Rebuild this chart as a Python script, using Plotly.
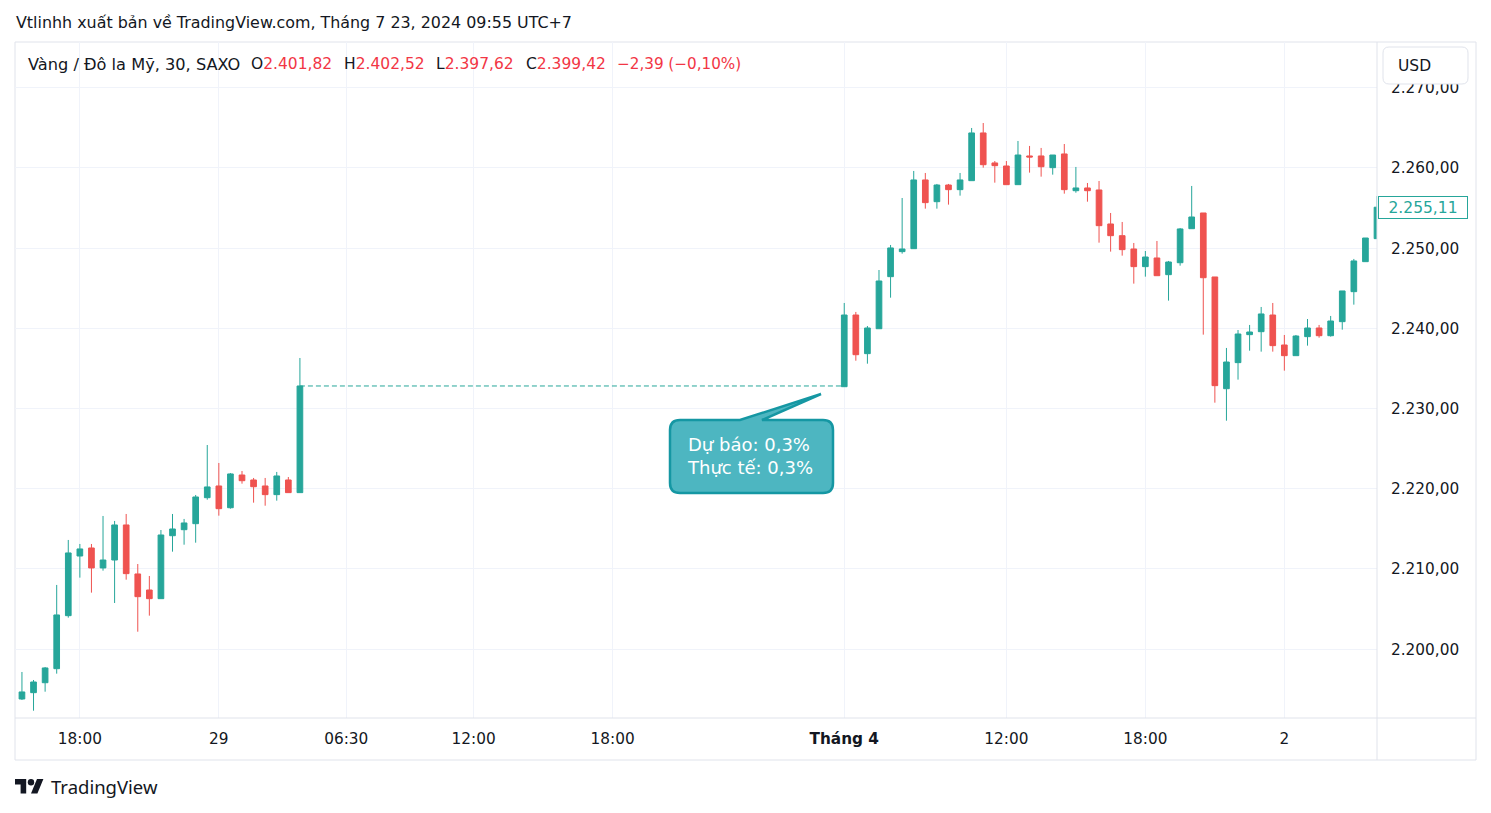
import plotly.graph_objects as go

# ---------------- data ----------------
# Session 1: 28-29 March (30-minute bars)
open_1 = [2193.79, 2194.58, 2195.82, 2197.57, 2204.18, 2211.62, 2212.62, 2210.13, 2211.12, 2215.49,
          2209.38, 2207.38, 2206.30, 2214.15, 2214.90, 2215.65, 2218.89, 2220.35, 2217.64, 2221.72,
          2221.10, 2220.35, 2219.27, 2221.10, 2219.52]
high_1 = [2197.16, 2196.16, 2197.78, 2208.01, 2213.62, 2213.12, 2213.12, 2216.61, 2215.99, 2216.86,
          2210.62, 2209.13, 2214.86, 2216.86, 2216.24, 2219.23, 2225.46, 2223.22, 2221.97, 2222.22,
          2221.35, 2221.35, 2222.10, 2221.47, 2236.31]
low_1 = [2193.67, 2192.33, 2194.70, 2196.95, 2203.93, 2208.92, 2207.05, 2209.79, 2205.76, 2208.67,
         2202.18, 2204.18, 2206.30, 2212.16, 2213.03, 2213.28, 2218.64, 2216.65, 2217.52, 2220.64,
         2218.27, 2217.89, 2218.52, 2219.52, 2219.52]
close_1 = [2194.67, 2195.91, 2197.66, 2204.27, 2212.00, 2212.50, 2210.13, 2211.12, 2215.49, 2209.42,
           2206.55, 2206.30, 2214.24, 2214.99, 2215.74, 2218.98, 2220.23, 2217.52, 2221.85, 2221.01,
           2220.26, 2219.27, 2221.60, 2219.52, 2232.82]

# Session 2: 1-2 April (30-minute bars)
open_2 = [2232.73, 2241.67, 2236.85, 2239.96, 2246.45, 2249.57, 2249.94, 2258.51, 2255.80, 2257.88,
          2257.30, 2258.42, 2264.37, 2260.63, 2260.25, 2257.92, 2261.50, 2261.50, 2260.04, 2261.75,
          2257.17, 2257.51, 2257.26, 2253.02, 2251.56, 2249.90, 2247.70, 2248.78, 2246.70, 2248.19,
          2252.43, 2254.39, 2246.41, 2232.48, 2235.73, 2239.22, 2239.59, 2241.67, 2237.93, 2236.60,
          2238.97, 2240.05, 2239.09, 2240.84, 2244.58, 2248.32, 2251.19]
high_2 = [2243.17, 2242.05, 2240.30, 2247.28, 2250.40, 2256.26, 2259.63, 2259.38, 2258.01, 2258.01,
          2259.38, 2264.99, 2265.61, 2260.87, 2260.87, 2263.37, 2262.75, 2262.50, 2261.62, 2262.99,
          2260.13, 2258.13, 2258.38, 2254.39, 2253.27, 2250.65, 2249.65, 2250.90, 2248.41, 2252.52,
          2257.76, 2254.39, 2246.41, 2237.56, 2239.80, 2240.43, 2242.67, 2243.17, 2239.18, 2239.18,
          2241.17, 2240.43, 2241.55, 2244.67, 2248.66, 2251.27, 2256.50]
low_2 = [2232.73, 2235.97, 2235.60, 2239.96, 2243.83, 2249.32, 2249.90, 2254.93, 2254.93, 2255.43,
         2256.55, 2258.42, 2260.04, 2258.17, 2257.92, 2257.92, 2259.42, 2258.92, 2259.17, 2256.80,
         2256.92, 2255.80, 2250.69, 2249.57, 2249.07, 2245.58, 2246.45, 2246.57, 2243.46, 2247.82,
         2252.43, 2239.22, 2230.74, 2228.49, 2233.61, 2237.22, 2237.10, 2237.10, 2234.73, 2236.60,
         2237.85, 2238.84, 2238.97, 2239.84, 2242.96, 2248.32, 2251.19]
close_2 = [2241.67, 2236.72, 2240.05, 2245.91, 2250.03, 2249.90, 2258.51, 2255.68, 2257.88, 2257.30,
           2258.51, 2264.37, 2260.41, 2260.29, 2257.92, 2261.62, 2261.37, 2260.16, 2261.62, 2257.30,
           2257.51, 2257.17, 2252.81, 2251.56, 2249.82, 2247.70, 2248.90, 2246.57, 2248.28, 2252.40,
           2253.89, 2246.32, 2232.86, 2235.81, 2239.30, 2239.55, 2241.80, 2237.85, 2236.60, 2239.05,
           2240.05, 2239.09, 2240.92, 2244.67, 2248.41, 2251.27, 2255.11]

# bar slots on the time scale (session 2 starts at slot 71 = "Tháng 4")
session_1_start = 0
session_2_start = 71

tick_slots = [5, 17, 28, 39, 51, 71, 85, 97, 109]
tick_labels = ["18:00", "29", "06:30", "12:00", "18:00", "<b>Tháng 4</b>", "12:00", "18:00", "2"]
price_ticks = [2200, 2210, 2220, 2230, 2240, 2250, 2260, 2270]

legend_name = "Vàng / Đô la Mỹ, 30, SAXO"
legend_keys = ["O", "H", "L", "C"]
legend_vals = ["2.401,82", "2.402,52", "2.397,62", "2.399,42"]
legend_change = "−2,39 (−0,10%)"
title_text = "Vtlinhh xuất bản về TradingView.com, Tháng 7 23, 2024 09:55 UTC+7"
callout_lines = ["Dự báo: 0,3%", "Thực tế: 0,3%"]

# ---------------- styling / layout helpers ----------------
W, H = 1491, 813
PL, PR, PT, PB = 15, 1377, 42, 718
UP, DOWN = "#26a69a", "#ef5350"
TXT = "#131722"
FONT = "DejaVu Sans"
FONT2 = "Noto Sans"


def fx(px):
    return (px - PL) / (PR - PL)


def fy(py):
    return (PB - py) / (PB - PT)


def P(x, y):
    return f"{fx(x):.5f},{fy(y):.5f}"


def vn(v):
    s = f"{v:,.2f}"
    return s.replace(",", "X").replace(".", ",").replace("X", ".")


x1 = [session_1_start + i for i in range(len(open_1))]
x2 = [session_2_start + i for i in range(len(open_2))]

fig = go.Figure()

fig.add_trace(go.Candlestick(
    x=x1 + x2,
    open=open_1 + open_2, high=high_1 + high_2, low=low_1 + low_2, close=close_1 + close_2,
    increasing=dict(line=dict(color=UP, width=1), fillcolor=UP),
    decreasing=dict(line=dict(color=DOWN, width=1), fillcolor=DOWN),
    whiskerwidth=0,
    hoverinfo="skip",
    showlegend=False,
))

# dashed gap connector
fig.add_trace(go.Scatter(
    x=[x1[-1], x2[0]], y=[close_1[-1], close_1[-1]],
    mode="lines", line=dict(color=UP, width=1, dash="5px,3px"),
    hoverinfo="skip", showlegend=False,
))

shapes = []
# pane frame
shapes.append(dict(type="rect", xref="paper", yref="paper",
                   x0=fx(15), x1=fx(1476), y0=fy(42), y1=fy(760),
                   line=dict(color="#e0e3eb", width=1), layer="below"))
shapes.append(dict(type="line", xref="paper", yref="paper",
                   x0=fx(1377), x1=fx(1377), y0=fy(42), y1=fy(760),
                   line=dict(color="#e0e3eb", width=1)))
shapes.append(dict(type="line", xref="paper", yref="paper",
                   x0=fx(15), x1=fx(1476), y0=fy(718), y1=fy(718),
                   line=dict(color="#e0e3eb", width=1)))

# USD button (covers the top tick label partly)
usd = (f"M{P(1389,47)} L{P(1462,47)} Q{P(1468,47)} {P(1468,53)} L{P(1468,78)} "
       f"Q{P(1468,84)} {P(1462,84)} L{P(1389,84)} Q{P(1383,84)} {P(1383,78)} "
       f"L{P(1383,53)} Q{P(1383,47)} {P(1389,47)} Z")
shapes.append(dict(type="path", xref="paper", yref="paper", path=usd,
                   fillcolor="white", line=dict(color="#e0e3eb", width=1), layer="above"))

# callout bubble
bubble = (f"M{P(680,420)} L{P(740,420)} L{P(821,394)} L{P(762,420)} L{P(823,420)} "
          f"Q{P(833,420)} {P(833,430)} L{P(833,483)} Q{P(833,493)} {P(823,493)} "
          f"L{P(680,493)} Q{P(670,493)} {P(670,483)} L{P(670,430)} Q{P(670,420)} {P(680,420)} Z")
shapes.append(dict(type="path", xref="paper", yref="paper", path=bubble,
                   fillcolor="#4db6c1", line=dict(color="#1597a3", width=2.5), layer="above"))

# TradingView logo
def L(u, v):
    return P(15 + 0.8 * u, 775.8 + 0.8 * v)

logo_t = f"M{L(14,22)} L{L(7,22)} L{L(7,11)} L{L(0,11)} L{L(0,4)} L{L(14,4)} Z"
logo_s = f"M{L(28,22)} L{L(20,22)} L{L(27.5,4)} L{L(35.5,4)} Z"
for pth in (logo_t, logo_s):
    shapes.append(dict(type="path", xref="paper", yref="paper", path=pth,
                       fillcolor=TXT, line=dict(width=0), layer="above"))
shapes.append(dict(type="circle", xref="paper", yref="paper",
                   x0=fx(15 + 0.8 * 16), x1=fx(15 + 0.8 * 24),
                   y0=fy(775.8 + 0.8 * 12), y1=fy(775.8 + 0.8 * 4),
                   fillcolor=TXT, line=dict(width=0), layer="above"))

ann = []
ann.append(dict(text=title_text, xref="paper", yref="paper", x=fx(14), y=fy(22),
                xanchor="left", yanchor="middle", showarrow=False,
                font=dict(family=FONT, size=15.9, color=TXT)))
ann.append(dict(text=legend_name, xref="paper", yref="paper", x=fx(26), y=fy(64),
                xanchor="left", yanchor="middle", showarrow=False,
                font=dict(family=FONT, size=16.2, color=TXT)))
legend_x = [249, 342, 434, 524]
for k, v, lx in zip(legend_keys, legend_vals, legend_x):
    ann.append(dict(text=f"{k}<span style='color:#f23645'>{v}</span>", xref="paper", yref="paper",
                    x=fx(lx), y=fy(64), xanchor="left", yanchor="middle", showarrow=False,
                    font=dict(family=FONT, size=15.5, color=TXT)))
ann.append(dict(text=legend_change, xref="paper", yref="paper", x=fx(615), y=fy(64),
                xanchor="left", yanchor="middle", showarrow=False,
                font=dict(family=FONT, size=15.2, color="#f23645")))
ann.append(dict(text="USD", xref="paper", yref="paper", x=fx(1396), y=fy(66),
                xanchor="left", yanchor="middle", showarrow=False,
                font=dict(family=FONT, size=15.5, color=TXT)))
ann.append(dict(text="<br>".join(callout_lines), xref="paper", yref="paper", x=fx(685), y=fy(456),
                xanchor="left", yanchor="middle", showarrow=False, align="left",
                font=dict(family=FONT, size=18, color="white")))
# last price label
ann.append(dict(text=vn(close_2[-1]), xref="paper", yref="y", x=fx(1378), y=close_2[-1],
                xanchor="left", yanchor="middle", showarrow=False, align="center",
                width=86, height=19, bgcolor="white", bordercolor=UP, borderwidth=1, borderpad=1,
                font=dict(family=FONT, size=15.5, color=UP)))
ann.append(dict(text="TradingView", xref="paper", yref="paper", x=fx(49), y=fy(787),
                xanchor="left", yanchor="middle", showarrow=False,
                font=dict(family=FONT2, size=18.5, color=TXT)))

fig.update_layout(
    width=W, height=H,
    margin=dict(l=PL, r=W - PR, t=PT, b=H - PB),
    paper_bgcolor="white", plot_bgcolor="white",
    separators=",.",
    font=dict(family=FONT, color=TXT, size=15.5),
    showlegend=False,
    hovermode=False,
    shapes=shapes,
    annotations=ann,
    xaxis=dict(
        range=[-0.6, 117.0], rangeslider=dict(visible=False),
        tickmode="array", tickvals=tick_slots, ticktext=tick_labels,
        showgrid=True, gridcolor="#f0f3fa", gridwidth=1,
        zeroline=False, showline=False, ticks="", ticklabelstandoff=10,
        tickfont=dict(family=FONT, size=15.3, color=TXT), fixedrange=True,
    ),
    yaxis=dict(
        side="right", range=[2191.42, 2275.71],
        tickmode="array", tickvals=price_ticks, tickformat=",.2f",
        showgrid=True, gridcolor="#f0f3fa", gridwidth=1,
        zeroline=False, showline=False, ticks="", ticklabelstandoff=13,
        tickfont=dict(family=FONT, size=15.3, color=TXT), fixedrange=True,
    ),
)

fig.write_html("out.html", config=dict(displayModeBar=False, staticPlot=True),
               post_script="document.body.style.margin='0px';")
